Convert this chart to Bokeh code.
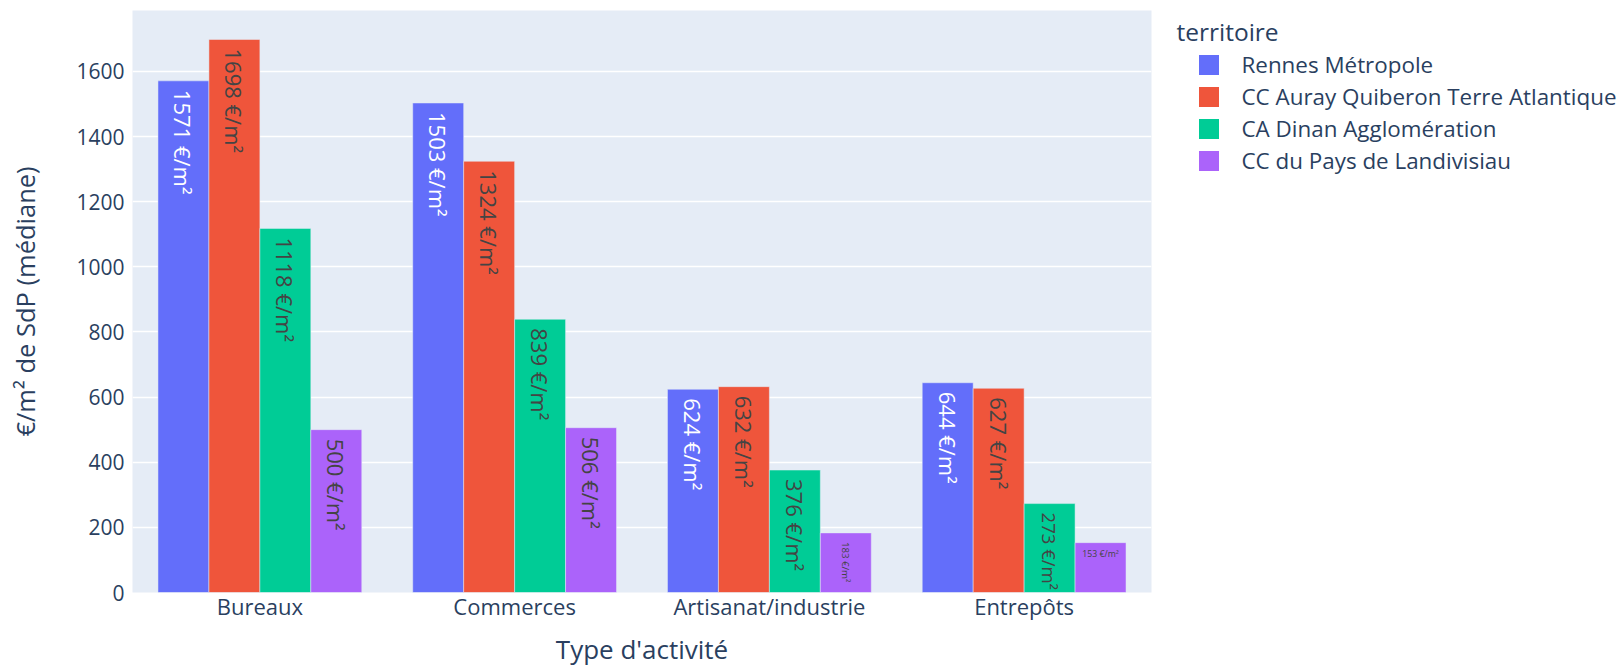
import math
from bokeh.plotting import figure
from bokeh.layouts import row, column
from bokeh.models import (ColumnDataSource, FactorRange, Range1d, FixedTicker, Legend,
                          LegendItem, Label)
from bokeh.transform import dodge
from bokeh.core.properties import value
from bokeh.embed import file_html
from bokeh.resources import INLINE

# ---- data ----
categories = ["Bureaux", "Commerces", "Artisanat/industrie", "Entrepôts"]
series_names = ["Rennes Métropole", "CC Auray Quiberon Terre Atlantique",
                "CA Dinan Agglomération", "CC du Pays de Landivisiau"]
rennes = [1571, 1503, 624, 644]
auray = [1698, 1324, 632, 627]
dinan = [1118, 839, 376, 273]
landivisiau = [500, 506, 183, 153]
y_ticks = [0, 200, 400, 600, 800, 1000, 1200, 1400, 1600]
legend_title = "territoire"
x_title = "Type d'activité"
y_title = "€/m² de SdP (médiane)"

# ---- styles ----
colors = ["#636efa", "#EF553B", "#00cc96", "#ab63fa"]
label_colors = ["#ffffff", "#444444", "#444444", "#444444"]
label_sizes = [[22, 22, 22, 22], [22, 22, 22, 22], [22, 22, 22, 18.5], [22, 22, 9.7, 8.7]]
label_vertical = [[True] * 4, [True] * 4, [True] * 4, [True, True, True, False]]
offsets = [-0.3, -0.1, 0.1, 0.3]
FONT = "Open Sans"
TXT = "#2a3f5f"
W_TOTAL, H_TOTAL = 1623, 667
W_MAIN = 1161
H_MAIN = 624
H_TITLE = H_TOTAL - H_MAIN

p = figure(x_range=FactorRange(*categories, range_padding=0),
           y_range=Range1d(0, 1787),
           width=W_MAIN, height=H_MAIN, output_backend="svg", toolbar_location=None,
           min_border_left=132, min_border_right=10, min_border_top=10,
           min_border_bottom=32)
p.background_fill_color = "#E5ECF6"
p.border_fill_color = "white"
p.outline_line_color = None

# legend-only figure (right of the chart)
lg = figure(width=W_TOTAL - W_MAIN, height=H_MAIN, output_backend="svg", toolbar_location=None,
            x_range=FactorRange(*categories), y_range=Range1d(2000, 4000),
            x_axis_type=None, y_axis_type=None,
            min_border_left=0, min_border_right=0, min_border_top=10, min_border_bottom=32)
lg.outline_line_color = None
lg.background_fill_color = "white"
lg.border_fill_color = "white"
lg.xgrid.visible = False
lg.ygrid.visible = False

all_series = [rennes, auray, dinan, landivisiau]
legend_items = []
for i, vals in enumerate(all_series):
    src = ColumnDataSource(dict(cat=categories, val=vals))
    p.vbar(x=dodge("cat", offsets[i], range=p.x_range), top="val", width=0.2,
           source=src, fill_color=colors[i], line_color="#E5ECF6", line_width=0.5)
    # zero-width copies in the legend figure, out of its visible area (swatches only)
    lr = lg.vbar(x=dodge("cat", offsets[i], range=lg.x_range), top="val", width=0,
                 source=src, fill_color=colors[i], line_color=None)
    legend_items.append(LegendItem(label=series_names[i], renderers=[lr]))

    vx, vy, vt, vs = [], [], [], []
    hx, hy, ht, hs = [], [], [], []
    for j, v in enumerate(vals):
        t = f"{v} €/m²"
        if label_vertical[i][j]:
            vx.append(categories[j]); vy.append(v); vt.append(t); vs.append(f"{label_sizes[i][j]}px")
        else:
            hx.append(categories[j]); hy.append(v); ht.append(t); hs.append(f"{label_sizes[i][j]}px")
    vsrc = ColumnDataSource(dict(cat=vx, val=vy, txt=vt, fs=vs))
    p.text(x=dodge("cat", offsets[i], range=p.x_range), y="val", text="txt", source=vsrc,
           angle=-math.pi / 2, text_align="left", text_baseline="middle",
           text_font=value(FONT), text_font_size="fs", text_color=label_colors[i],
           y_offset=9)
    if hx:
        hsrc = ColumnDataSource(dict(cat=hx, val=hy, txt=ht, fs=hs))
        p.text(x=dodge("cat", offsets[i], range=p.x_range), y="val", text="txt", source=hsrc,
               angle=0, text_align="center", text_baseline="top",
               text_font=value(FONT), text_font_size="fs", text_color=label_colors[i],
               y_offset=5)

p.xgrid.grid_line_color = None
p.ygrid.grid_line_color = "white"
p.ygrid.grid_line_width = 1.5
p.yaxis.ticker = FixedTicker(ticks=y_ticks)

for ax in (p.xaxis[0], p.yaxis[0]):
    ax.axis_line_color = None
    ax.major_tick_line_color = None
    ax.minor_tick_line_color = None
    ax.major_tick_out = 0
    ax.major_tick_in = 0
    ax.minor_tick_out = 0
    ax.minor_tick_in = 0
    ax.major_label_text_font = FONT
    ax.major_label_text_color = TXT
    ax.axis_label_text_font = FONT
    ax.axis_label_text_color = TXT
    ax.axis_label_text_font_size = "25.5px"
    ax.axis_label_text_font_style = "normal"

p.xaxis.major_label_text_font_size = "22px"
p.yaxis.major_label_text_font_size = "21px"
p.yaxis.axis_label = y_title
p.xaxis.major_label_standoff = -2
p.yaxis.major_label_standoff = 8
p.yaxis.axis_label_standoff = 31

legend = Legend(items=legend_items, location=(34.5, 416), margin=0, padding=0,
                glyph_width=25, glyph_height=25, label_standoff=21, spacing=1,
                label_text_font=FONT, label_text_font_size="22.4px", label_text_color=TXT,
                border_line_color=None, background_fill_alpha=0)
lg.add_layout(legend, "center")
lg.add_layout(Label(x=15, y=561, x_units="screen", y_units="screen", text=legend_title,
                    text_font=FONT, text_font_size="24.5px", text_color=TXT,
                    text_baseline="middle", text_align="left"))

# x-axis title strip below the chart
tf = figure(width=W_MAIN, height=H_TITLE, output_backend="svg", toolbar_location=None,
            x_range=Range1d(0, 1), y_range=Range1d(0, 1), x_axis_type=None, y_axis_type=None,
            min_border_left=132, min_border_right=10, min_border_top=0, min_border_bottom=0)
tf.outline_line_color = None
tf.background_fill_color = "white"
tf.border_fill_color = "white"
tf.xgrid.visible = False
tf.ygrid.visible = False
tf.add_layout(Label(x=509.5, y=18.5, x_units="screen", y_units="screen", text=x_title,
                    text_font=FONT, text_font_size="26px", text_color=TXT,
                    text_baseline="middle", text_align="center"))

layout = column(row(p, lg, spacing=0), tf, spacing=0)
open("out.html", "w").write(file_html(layout, INLINE))
